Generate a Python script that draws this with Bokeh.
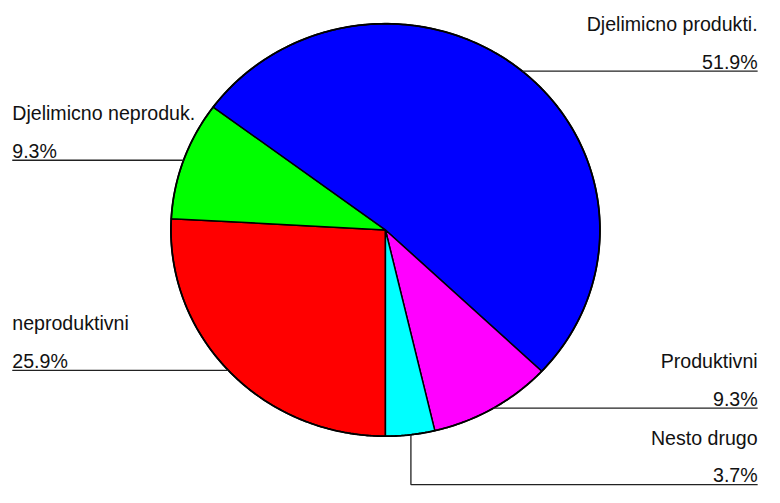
import numpy as np
from bokeh.plotting import figure
from bokeh.models import Range1d
from bokeh.core.properties import value
from bokeh.embed import file_html
from bokeh.resources import INLINE

# ---- data (clockwise from 6 o'clock) ----
categories = ["neproduktivni", "Djelimicno neproduk.", "Djelimicno produkti.", "Produktivni", "Nesto drugo"]
values = [25.9, 9.3, 51.9, 9.3, 3.7]
pct_labels = ["25.9%", "9.3%", "51.9%", "9.3%", "3.7%"]
colors = ["#FF0000", "#00FF00", "#0000FF", "#FF00FF", "#00FFFF"]

# ---- layout constants (reference pixel coordinates) ----
W, H = 764, 487
CX, CY, RX, RY = 393, 237, 219, 213
label_side = ["left", "left", "right", "right", "right"]
label_line_y = [382, 165, 73, 421, 500]
elbow_x = [None, None, None, None, 419]
LEFT_X, RIGHT_X = 12, 773
FONT = value("Liberation Sans")
FS = "%.1fpx" % (20 * W / 780.0)

p = figure(width=W, height=H, x_range=Range1d(0, 780), y_range=Range1d(503, 0),
           output_backend="svg", toolbar_location=None, min_border=0)
p.axis.visible = False
p.grid.visible = False
p.outline_line_color = None
p.background_fill_color = "white"

total = float(sum(values))
ang = np.deg2rad(-90) - np.cumsum([0] + values) / total * 2 * np.pi
xs, ys = [], []
for a0, a1 in zip(ang[:-1], ang[1:]):
    t = np.linspace(a0, a1, 300)
    xs.append([CX] + list(CX + RX * np.cos(t)) + [CX])
    ys.append([CY] + list(CY - RY * np.sin(t)) + [CY])
p.patches(xs, ys, fill_color=colors, line_color="black", line_width=1.5)

tt = np.linspace(0, 2 * np.pi, 400)
p.line(CX + RX * np.cos(tt), CY - RY * np.sin(tt), line_color="black", line_width=1.8)

def edge_dx(y):
    return RX * np.sqrt(max(0.0, 1 - ((y - CY) / RY) ** 2))

for cat, pct, side, ly, ex in zip(categories, pct_labels, label_side, label_line_y, elbow_x):
    if side == "left":
        tx, align = LEFT_X, "left"
        p.line([LEFT_X, CX - edge_dx(ly)], [ly, ly], line_color="#222222", line_width=1.3)
    else:
        tx, align = RIGHT_X, "right"
        if ex is None:
            p.line([CX + edge_dx(ly), RIGHT_X], [ly, ly], line_color="#222222", line_width=1.3)
        else:
            ey = CY + RY * np.sqrt(1 - ((ex - CX) / RX) ** 2)
            p.line([ex, ex, RIGHT_X], [ey, ly, ly], line_color="#222222", line_width=1.3)
    p.text(x=[tx], y=[ly - 48.5], text=[cat], text_font=FONT, text_font_size=FS,
           text_align=align, text_baseline="alphabetic", text_color="#111111")
    p.text(x=[tx], y=[ly - 9.5], text=[pct], text_font=FONT, text_font_size=FS,
           text_align=align, text_baseline="alphabetic", text_color="#111111")

open("out.html", "w").write(file_html(p, INLINE))
